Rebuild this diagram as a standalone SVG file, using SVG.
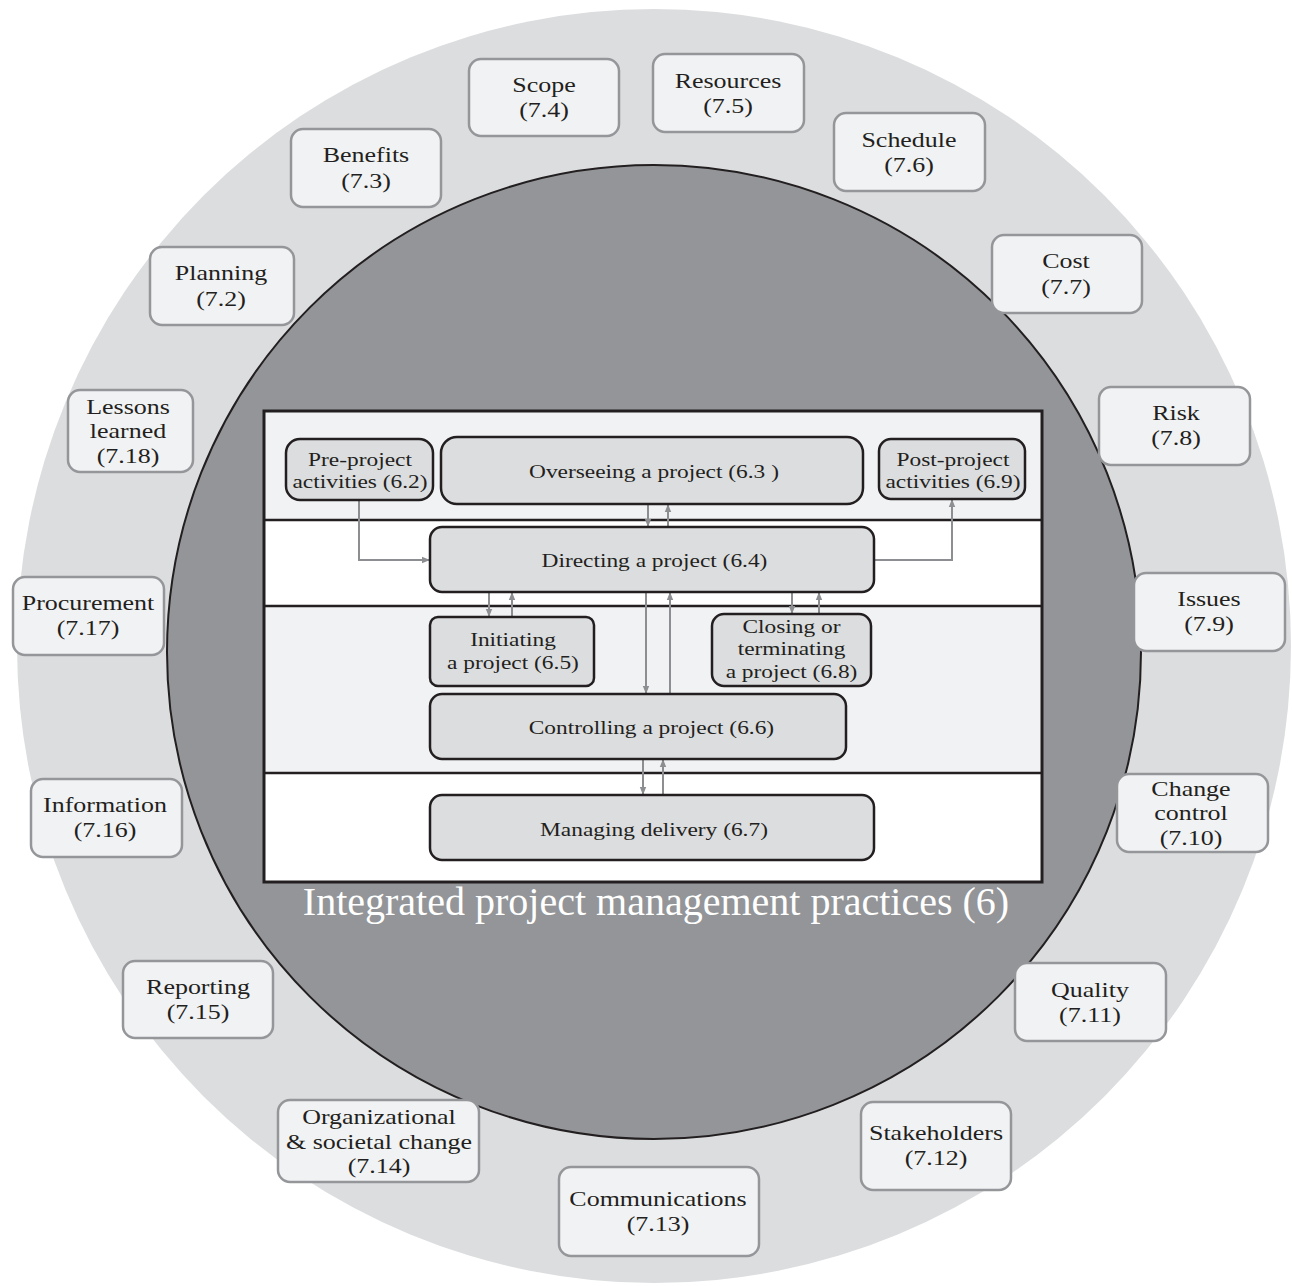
<svg xmlns="http://www.w3.org/2000/svg" width="1292" height="1286" viewBox="0 0 1292 1286">
<style>
.outer rect{fill:#f1f2f3;stroke:#949699;stroke-width:2.5}
.outer text{font-family:"Liberation Serif",serif;font-size:22px;fill:#231f20;text-anchor:middle;transform:scale(1.18,1)}
.inner rect{fill:#dcdddf;stroke:#231f20;stroke-width:2.5}
.inner text{font-family:"Liberation Serif",serif;font-size:19.5px;fill:#231f20;text-anchor:middle;transform:scale(1.2,1)}
.conn path{fill:none;stroke:#8c8e91;stroke-width:2}
</style>
<defs>
<marker id="ah" viewBox="0 0 10 10" refX="10" refY="5" markerWidth="8" markerHeight="8" markerUnits="userSpaceOnUse" orient="auto">
<path d="M0,1 L10,5 L0,9 Z" fill="#8c8e91"/>
</marker>
</defs>
<rect width="1292" height="1286" fill="#ffffff"/>
<circle cx="654" cy="646" r="637" fill="#dcdddf"/>
<circle cx="654" cy="652" r="487" fill="#939598" stroke="#231f20" stroke-width="2"/>
<g id="panel">
<rect x="264" y="411" width="778" height="109" fill="#f1f2f3"/>
<rect x="264" y="520" width="778" height="86" fill="#ffffff"/>
<rect x="264" y="606" width="778" height="167" fill="#f1f2f3"/>
<rect x="264" y="773" width="778" height="109" fill="#ffffff"/>
<path d="M264,520H1042M264,606H1042M264,773H1042" stroke="#231f20" stroke-width="2.5"/>
<rect x="264" y="411" width="778" height="471" fill="none" stroke="#231f20" stroke-width="3"/>
</g>
<g id="connectors" class="conn">
<path d="M359,500V560H430" marker-end="url(#ah)"/>
<path d="M874,560H952V499" marker-end="url(#ah)"/>
<path d="M648,504V527" marker-end="url(#ah)"/>
<path d="M668,527V504" marker-end="url(#ah)"/>
<path d="M489,592V617" marker-end="url(#ah)"/>
<path d="M512,617V592" marker-end="url(#ah)"/>
<path d="M646,592V694" marker-end="url(#ah)"/>
<path d="M670,694V592" marker-end="url(#ah)"/>
<path d="M792,592V614" marker-end="url(#ah)"/>
<path d="M819,614V592" marker-end="url(#ah)"/>
<path d="M643,759V795" marker-end="url(#ah)"/>
<path d="M663,795V759" marker-end="url(#ah)"/>
</g>
<g id="n62" class="inner"><rect x="286" y="439" width="147" height="61" rx="14"/><text x="300" y="466">Pre-project</text><text x="300" y="488">activities (6.2)</text></g>
<g id="n63" class="inner"><rect x="441" y="437" width="422" height="67" rx="16"/><text x="545" y="478">Overseeing a project (6.3 )</text></g>
<g id="n69" class="inner"><rect x="879" y="439" width="146" height="60" rx="12"/><text x="794.17" y="466">Post-project</text><text x="794.17" y="488">activities (6.9)</text></g>
<g id="n64" class="inner"><rect x="430" y="527" width="444" height="65" rx="12"/><text x="545.4" y="567">Directing a project (6.4)</text></g>
<g id="n65" class="inner"><rect x="430" y="617" width="164" height="69" rx="8"/><text x="427.5" y="646">Initiating</text><text x="427.5" y="669">a project (6.5)</text></g>
<g id="n68" class="inner"><rect x="712" y="614" width="159" height="72" rx="12"/><text x="659.6" y="633">Closing or</text><text x="659.6" y="655">terminating</text><text x="659.6" y="678">a project (6.8)</text></g>
<g id="n66" class="inner"><rect x="430" y="694" width="416" height="65" rx="12"/><text x="542.9" y="734">Controlling a project (6.6)</text></g>
<g id="n67" class="inner"><rect x="430" y="795" width="444" height="65" rx="12"/><text x="545" y="836">Managing delivery (6.7)</text></g>
<text x="656" y="915" font-family="Liberation Serif, serif" font-size="40" fill="#ffffff" text-anchor="middle">Integrated project management practices (6)</text>
<g id="n74" class="outer"><rect x="469" y="59" width="150" height="77" rx="12"/><text x="461.02" y="92">Scope</text><text x="461.02" y="117">(7.4)</text></g>
<g id="n75" class="outer"><rect x="653" y="54" width="151" height="78" rx="12"/><text x="616.95" y="88">Resources</text><text x="616.95" y="113">(7.5)</text></g>
<g id="n76" class="outer"><rect x="834" y="113" width="151" height="78" rx="12"/><text x="770.34" y="147">Schedule</text><text x="770.34" y="172">(7.6)</text></g>
<g id="n73" class="outer"><rect x="291" y="129" width="150" height="78" rx="12"/><text x="310.17" y="162">Benefits</text><text x="310.17" y="188">(7.3)</text></g>
<g id="n77" class="outer"><rect x="992" y="235" width="150" height="78" rx="12"/><text x="903.39" y="268">Cost</text><text x="903.39" y="294">(7.7)</text></g>
<g id="n72" class="outer"><rect x="150" y="247" width="144" height="78" rx="12"/><text x="187.29" y="280">Planning</text><text x="187.29" y="306">(7.2)</text></g>
<g id="n78" class="outer"><rect x="1099" y="387" width="151" height="78" rx="12"/><text x="996.61" y="420">Risk</text><text x="996.61" y="445">(7.8)</text></g>
<g id="n718" class="outer"><rect x="68" y="390" width="125" height="82" rx="12"/><text x="108.47" y="414">Lessons</text><text x="108.47" y="438.5">learned</text><text x="108.47" y="463">(7.18)</text></g>
<g id="n717" class="outer"><rect x="13" y="577" width="151" height="78" rx="12"/><text x="74.58" y="610">Procurement</text><text x="74.58" y="635">(7.17)</text></g>
<g id="n79" class="outer"><rect x="1134" y="573" width="151" height="78" rx="12"/><text x="1024.58" y="606">Issues</text><text x="1024.58" y="631">(7.9)</text></g>
<g id="n716" class="outer"><rect x="31" y="779" width="151" height="78" rx="12"/><text x="88.98" y="812">Information</text><text x="88.98" y="837">(7.16)</text></g>
<g id="n710" class="outer"><rect x="1117" y="774" width="151" height="78" rx="12"/><text x="1009.32" y="796">Change</text><text x="1009.32" y="820.5">control</text><text x="1009.32" y="845">(7.10)</text></g>
<g id="n715" class="outer"><rect x="123" y="961" width="150" height="77" rx="12"/><text x="167.8" y="994">Reporting</text><text x="167.8" y="1019">(7.15)</text></g>
<g id="n711" class="outer"><rect x="1015" y="963" width="151" height="78" rx="12"/><text x="923.73" y="997">Quality</text><text x="923.73" y="1022">(7.11)</text></g>
<g id="n714" class="outer"><rect x="278" y="1100" width="201" height="82" rx="12"/><text x="321.19" y="1124">Organizational</text><text x="321.19" y="1148.5">&amp; societal change</text><text x="321.19" y="1173">(7.14)</text></g>
<g id="n712" class="outer"><rect x="861" y="1102" width="150" height="88" rx="12"/><text x="793.22" y="1140">Stakeholders</text><text x="793.22" y="1165">(7.12)</text></g>
<g id="n713" class="outer"><rect x="559" y="1167" width="200" height="89" rx="12"/><text x="557.63" y="1206">Communications</text><text x="557.63" y="1231">(7.13)</text></g>
</svg>
